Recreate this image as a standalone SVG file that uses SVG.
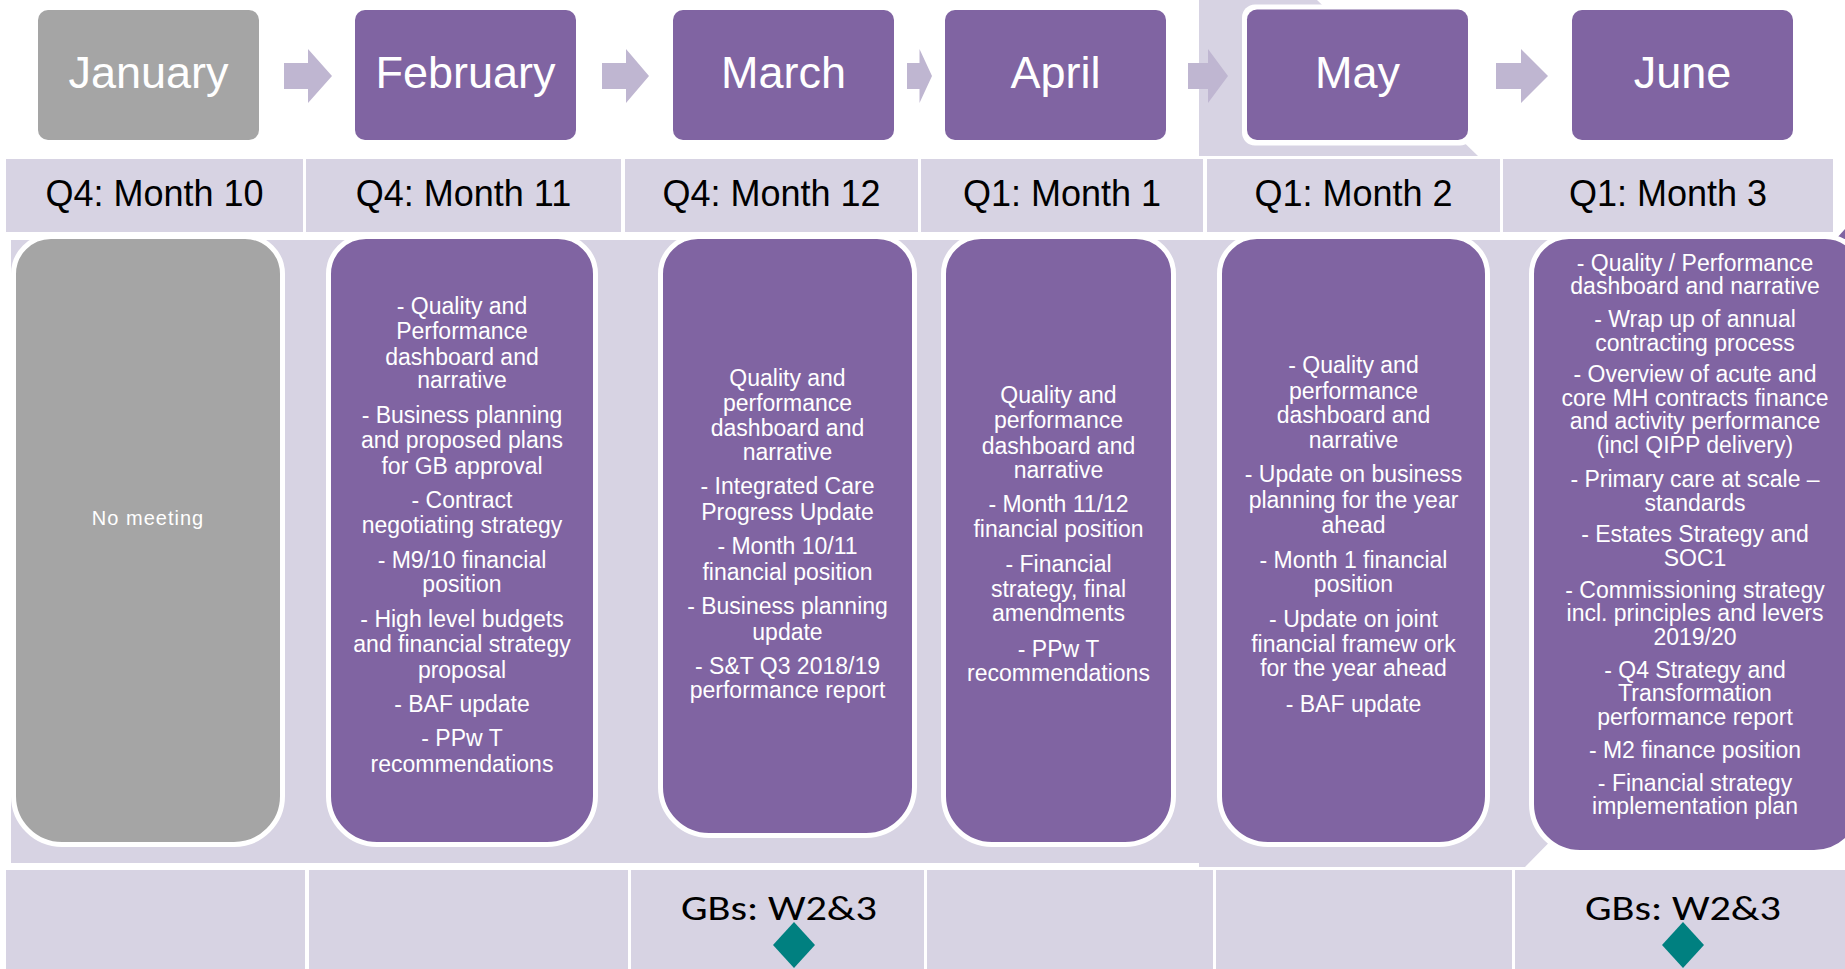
<svg xmlns="http://www.w3.org/2000/svg" width="1845" height="969" viewBox="0 0 1845 969">
<style>
.bg{fill:#D7D3E3}
.arrow{fill:#BFB6D1}
.mbox{fill:#8064A2}
.gray{fill:#A5A5A5}
.body{fill:#8064A2;stroke:#FFFFFF;stroke-width:5}
.bodyg{fill:#A5A5A5;stroke:#FFFFFF;stroke-width:5}
.mtxt{font-family:"Liberation Sans",Arial,sans-serif;font-size:45px;fill:#FFFFFF;text-anchor:middle}
.qtxt{font-family:"Liberation Sans",Arial,sans-serif;font-size:36px;fill:#000000;text-anchor:middle}
.btxt{font-family:"Liberation Sans",Arial,sans-serif;font-size:23px;fill:#FFFFFF;text-anchor:middle}
.gtxt{font-family:Carlito,"Liberation Sans",Arial,sans-serif;font-size:35px;fill:#000000;text-anchor:middle}
.dia{fill:#008080}
</style>
<rect width="1845" height="969" fill="#FFFFFF"/>
<g id="background">
<path class="bg" d="M11,240 H1580 V811 L1525,867 H1199 V863 H11 Z"/>
<polygon class="bg" points="1199,0 1317,0 1478,156 1199,156"/>
<polygon class="mbox" points="1836,239 1845,229 1845,239"/>
</g>
<g id="connectors">
<polygon class="arrow" points="284,63 308,63 308,49 332,76 308,103 308,89 284,89"/>
<polygon class="arrow" points="602,63 626,63 626,49 649,76 626,103 626,89 602,89"/>
<polygon class="arrow" points="907,63 919.5,63 919.5,49 932,76 919.5,103 919.5,89 907,89"/>
<polygon class="arrow" points="1188,63 1208,63 1208,49 1228,76 1208,103 1208,89 1188,89"/>
<polygon class="arrow" points="1496,63 1521,63 1521,49 1548,76 1521,103 1521,89 1496,89"/>
</g>
<g id="month-january"><rect class="gray" x="38" y="10" width="221" height="130" rx="10"/><text class="mtxt" x="148.5" y="88">January</text></g>
<g id="month-february"><rect class="mbox" x="355" y="10" width="221" height="130" rx="10"/><text class="mtxt" x="465.5" y="88">February</text></g>
<g id="month-march"><rect class="mbox" x="673" y="10" width="221" height="130" rx="10"/><text class="mtxt" x="783.5" y="88">March</text></g>
<g id="month-april"><rect class="mbox" x="945" y="10" width="221" height="130" rx="10"/><text class="mtxt" x="1055.5" y="88">April</text></g>
<g id="month-may"><rect x="1242" y="4.5" width="231" height="141" rx="13" fill="#FFFFFF"/><rect class="mbox" x="1247" y="9.5" width="221" height="130.5" rx="10"/><text class="mtxt" x="1357.5" y="88">May</text></g>
<g id="month-june"><rect class="mbox" x="1572" y="10" width="221" height="130" rx="10"/><text class="mtxt" x="1682.5" y="88">June</text></g>

<g id="quarter-row">
<rect class="bg" x="6" y="159" width="297" height="73"/><text class="qtxt" x="154.5" y="206">Q4: Month 10</text>
<rect class="bg" x="306" y="159" width="315" height="73"/><text class="qtxt" x="463.5" y="206">Q4: Month 11</text>
<rect class="bg" x="625" y="159" width="293" height="73"/><text class="qtxt" x="771.5" y="206">Q4: Month 12</text>
<rect class="bg" x="921" y="159" width="282" height="73"/><text class="qtxt" x="1062" y="206">Q1: Month 1</text>
<rect class="bg" x="1207" y="159" width="293" height="73"/><text class="qtxt" x="1353.5" y="206">Q1: Month 2</text>
<rect class="bg" x="1503" y="159" width="330" height="73"/><text class="qtxt" x="1668" y="206">Q1: Month 3</text>
</g>

<g id="body-january">
<path class="bodyg" d="M13.5,274 V796 A48.5,48.5 0 0 0 62,844.5 H234 A48.5,48.5 0 0 0 282.5,796 V274 A37.5,37.5 0 0 0 245,236.5 H51 A37.5,37.5 0 0 0 13.5,274 Z"/>
<text class="btxt" x="148" y="525" style="font-size:20px;letter-spacing:1px">No meeting</text>
</g>
<g id="body-february">
<path class="body" d="M328.5,274 V796 A48.5,48.5 0 0 0 377,844.5 H547 A48.5,48.5 0 0 0 595.5,796 V274 A37.5,37.5 0 0 0 558,236.5 H366 A37.5,37.5 0 0 0 328.5,274 Z"/>
<text class="btxt" x="462" y="314">- Quality and</text>
<text class="btxt" x="462" y="339">Performance</text>
<text class="btxt" x="462" y="365">dashboard and</text>
<text class="btxt" x="462" y="388">narrative</text>
<text class="btxt" x="462" y="423">- Business planning</text>
<text class="btxt" x="462" y="448">and proposed plans</text>
<text class="btxt" x="462" y="474">for GB approval</text>
<text class="btxt" x="462" y="508">- Contract</text>
<text class="btxt" x="462" y="533">negotiating strategy</text>
<text class="btxt" x="462" y="568">- M9/10 financial</text>
<text class="btxt" x="462" y="592">position</text>
<text class="btxt" x="462" y="627">- High level budgets</text>
<text class="btxt" x="462" y="652">and financial strategy</text>
<text class="btxt" x="462" y="678">proposal</text>
<text class="btxt" x="462" y="712">- BAF update</text>
<text class="btxt" x="462" y="746">- PPw T</text>
<text class="btxt" x="462" y="772">recommendations</text>
</g>
<g id="body-march">
<path class="body" d="M660.5,274 V787 A48.5,48.5 0 0 0 709,835.5 H866 A48.5,48.5 0 0 0 914.5,787 V274 A37.5,37.5 0 0 0 877,236.5 H698 A37.5,37.5 0 0 0 660.5,274 Z"/>
<text class="btxt" x="787.5" y="386">Quality and</text>
<text class="btxt" x="787.5" y="411">performance</text>
<text class="btxt" x="787.5" y="436">dashboard and</text>
<text class="btxt" x="787.5" y="460">narrative</text>
<text class="btxt" x="787.5" y="494">- Integrated Care</text>
<text class="btxt" x="787.5" y="520">Progress Update</text>
<text class="btxt" x="787.5" y="554">- Month 10/11</text>
<text class="btxt" x="787.5" y="580">financial position</text>
<text class="btxt" x="787.5" y="614">- Business planning</text>
<text class="btxt" x="787.5" y="640">update</text>
<text class="btxt" x="787.5" y="674">- S&amp;T Q3 2018/19</text>
<text class="btxt" x="787.5" y="698">performance report</text>
</g>
<g id="body-april">
<path class="body" d="M943.5,274 V796 A48.5,48.5 0 0 0 992,844.5 H1125 A48.5,48.5 0 0 0 1173.5,796 V274 A37.5,37.5 0 0 0 1136,236.5 H981 A37.5,37.5 0 0 0 943.5,274 Z"/>
<text class="btxt" x="1058.5" y="403">Quality and</text>
<text class="btxt" x="1058.5" y="428">performance</text>
<text class="btxt" x="1058.5" y="454">dashboard and</text>
<text class="btxt" x="1058.5" y="478">narrative</text>
<text class="btxt" x="1058.5" y="512">- Month 11/12</text>
<text class="btxt" x="1058.5" y="537">financial position</text>
<text class="btxt" x="1058.5" y="572">- Financial</text>
<text class="btxt" x="1058.5" y="597">strategy, final</text>
<text class="btxt" x="1058.5" y="621">amendments</text>
<text class="btxt" x="1058.5" y="657">- PPw T</text>
<text class="btxt" x="1058.5" y="681">recommendations</text>
</g>
<g id="body-may">
<path class="body" d="M1219.5,274 V796 A48.5,48.5 0 0 0 1268,844.5 H1439 A48.5,48.5 0 0 0 1487.5,796 V274 A37.5,37.5 0 0 0 1450,236.5 H1257 A37.5,37.5 0 0 0 1219.5,274 Z"/>
<text class="btxt" x="1353.5" y="373">- Quality and</text>
<text class="btxt" x="1353.5" y="399">performance</text>
<text class="btxt" x="1353.5" y="423">dashboard and</text>
<text class="btxt" x="1353.5" y="448">narrative</text>
<text class="btxt" x="1353.5" y="482">- Update on business</text>
<text class="btxt" x="1353.5" y="508">planning for the year</text>
<text class="btxt" x="1353.5" y="533">ahead</text>
<text class="btxt" x="1353.5" y="568">- Month 1 financial</text>
<text class="btxt" x="1353.5" y="592">position</text>
<text class="btxt" x="1353.5" y="627">- Update on joint</text>
<text class="btxt" x="1353.5" y="652">financial framew ork</text>
<text class="btxt" x="1353.5" y="676">for the year ahead</text>
<text class="btxt" x="1353.5" y="712">- BAF update</text>
</g>
<g id="body-june">
<path class="body" d="M1531.5,274 V804 A48.5,48.5 0 0 0 1580,852.5 H1814 A48.5,48.5 0 0 0 1862.5,804 V274 A37.5,37.5 0 0 0 1825,236.5 H1569 A37.5,37.5 0 0 0 1531.5,274 Z"/>
<text class="btxt" x="1695" y="271">- Quality / Performance</text>
<text class="btxt" x="1695" y="294">dashboard and narrative</text>
<text class="btxt" x="1695" y="327">- Wrap up of annual</text>
<text class="btxt" x="1695" y="351">contracting process</text>
<text class="btxt" x="1695" y="382">- Overview of acute and</text>
<text class="btxt" x="1695" y="406">core MH contracts finance</text>
<text class="btxt" x="1695" y="429">and activity performance</text>
<text class="btxt" x="1695" y="453">(incl QIPP delivery)</text>
<text class="btxt" x="1695" y="487">- Primary care at scale –</text>
<text class="btxt" x="1695" y="511">standards</text>
<text class="btxt" x="1695" y="542">- Estates Strategy and</text>
<text class="btxt" x="1695" y="566">SOC1</text>
<text class="btxt" x="1695" y="598">- Commissioning strategy</text>
<text class="btxt" x="1695" y="621">incl. principles and levers</text>
<text class="btxt" x="1695" y="645">2019/20</text>
<text class="btxt" x="1695" y="678">- Q4 Strategy and</text>
<text class="btxt" x="1695" y="701">Transformation</text>
<text class="btxt" x="1695" y="725">performance report</text>
<text class="btxt" x="1695" y="758">- M2 finance position</text>
<text class="btxt" x="1695" y="791">- Financial strategy</text>
<text class="btxt" x="1695" y="814">implementation plan</text>
</g>

<g id="governing-body-row">
<rect class="bg" x="6" y="870" width="299" height="99"/>
<rect class="bg" x="309" y="870" width="319" height="99"/>
<rect class="bg" x="631" y="870" width="293" height="99"/>
<rect class="bg" x="927" y="870" width="286" height="99"/>
<rect class="bg" x="1216" y="870" width="296" height="99"/>
<rect class="bg" x="1515" y="870" width="330" height="99"/>
</g>
<g id="gb-march">
<text class="gtxt" x="779" y="920" textLength="196" lengthAdjust="spacingAndGlyphs">GBs: W2&amp;3</text>
<polygon class="dia" points="794,922 815,945 794,968 773,945"/>
</g>
<g id="gb-june">
<text class="gtxt" x="1683" y="920" textLength="196" lengthAdjust="spacingAndGlyphs">GBs: W2&amp;3</text>
<polygon class="dia" points="1683,922 1704,945 1683,968 1662,945"/>
</g>
</svg>
